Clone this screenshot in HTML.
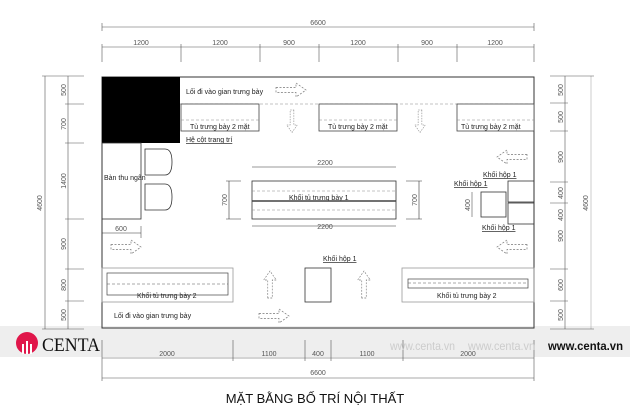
<!DOCTYPE html>
<html><head><meta charset="utf-8"><style>
html,body{margin:0;padding:0;background:#fff;width:630px;height:420px;overflow:hidden}
svg{display:block}
text{font-family:"Liberation Sans",sans-serif;fill:#222}
</style></head><body>
<svg width="630" height="420" viewBox="0 0 630 420" xmlns="http://www.w3.org/2000/svg">
<defs>
<g id="ar" fill="#fff" stroke="#777" stroke-width="0.7" stroke-dasharray="2,1.5"><path d="M0,-2.5 H20 V-7 L30,0 L20,7 V2.5 H0 Z"/></g>
</defs>
<rect x="0" y="326" width="630" height="31" fill="#eeeeee"/>
<g stroke="#555" stroke-width="0.6" fill="none">
<line x1="102" y1="27" x2="534" y2="27"/>
<line x1="102" y1="23" x2="102" y2="31"/><line x1="534" y1="23" x2="534" y2="31"/>
<line x1="102" y1="47" x2="534" y2="47"/>
<line x1="102" y1="44" x2="102" y2="62"/><line x1="181" y1="44" x2="181" y2="62"/><line x1="260" y1="44" x2="260" y2="62"/><line x1="319" y1="44" x2="319" y2="62"/><line x1="398" y1="44" x2="398" y2="62"/><line x1="457" y1="44" x2="457" y2="62"/><line x1="534" y1="44" x2="534" y2="62"/>
<line x1="45" y1="76" x2="45" y2="329"/><line x1="68" y1="76" x2="68" y2="329"/>
<line x1="42" y1="76" x2="84" y2="76"/><line x1="42" y1="329" x2="84" y2="329"/>
<line x1="65" y1="104" x2="84" y2="104"/><line x1="65" y1="143" x2="84" y2="143"/><line x1="65" y1="219" x2="84" y2="219"/><line x1="65" y1="269" x2="84" y2="269"/><line x1="65" y1="301" x2="84" y2="301"/>
<line x1="565" y1="76" x2="565" y2="329"/><line x1="591" y1="76" x2="591" y2="329" stroke="#aaa"/>
<line x1="550" y1="76" x2="594" y2="76"/><line x1="550" y1="329" x2="594" y2="329"/>
<line x1="550" y1="103" x2="568" y2="103"/><line x1="550" y1="131" x2="568" y2="131"/><line x1="550" y1="182" x2="568" y2="182"/><line x1="550" y1="203" x2="568" y2="203"/><line x1="550" y1="269" x2="568" y2="269"/><line x1="550" y1="301" x2="568" y2="301"/>
<line x1="102" y1="358" x2="534" y2="358"/><line x1="102" y1="378" x2="534" y2="378"/>
<line x1="102" y1="340" x2="102" y2="381"/><line x1="534" y1="340" x2="534" y2="381"/>
<line x1="233" y1="340" x2="233" y2="361"/><line x1="305" y1="340" x2="305" y2="361"/><line x1="331" y1="340" x2="331" y2="361"/><line x1="403" y1="340" x2="403" y2="361"/>
</g>
<g font-size="7" text-anchor="middle">
<text x="318" y="25" style="fill:#555">6600</text>
<text x="141" y="45" style="fill:#555">1200</text><text x="220" y="45" style="fill:#555">1200</text><text x="289" y="45" style="fill:#555">900</text><text x="358" y="45" style="fill:#555">1200</text><text x="427" y="45" style="fill:#555">900</text><text x="495" y="45" style="fill:#555">1200</text>
<text x="167" y="356" style="fill:#555">2000</text><text x="269" y="356" style="fill:#555">1100</text><text x="318" y="356" style="fill:#555">400</text><text x="367" y="356" style="fill:#555">1100</text><text x="468" y="356" style="fill:#555">2000</text>
<text x="318" y="375" style="fill:#555">6600</text>
</g>
<g font-size="7" text-anchor="middle">
<text transform="translate(42,203) rotate(-90)" style="fill:#555">4600</text>
<text transform="translate(66,90) rotate(-90)" style="fill:#555">500</text>
<text transform="translate(66,124) rotate(-90)" style="fill:#555">700</text>
<text transform="translate(66,181) rotate(-90)" style="fill:#555">1400</text>
<text transform="translate(66,244) rotate(-90)" style="fill:#555">900</text>
<text transform="translate(66,285) rotate(-90)" style="fill:#555">800</text>
<text transform="translate(66,315) rotate(-90)" style="fill:#555">500</text>
<text transform="translate(588,203) rotate(-90)" style="fill:#555">4600</text>
<text transform="translate(563,90) rotate(-90)" style="fill:#555">500</text>
<text transform="translate(563,117) rotate(-90)" style="fill:#555">500</text>
<text transform="translate(563,157) rotate(-90)" style="fill:#555">900</text>
<text transform="translate(563,193) rotate(-90)" style="fill:#555">400</text>
<text transform="translate(563,215) rotate(-90)" style="fill:#555">400</text>
<text transform="translate(563,236) rotate(-90)" style="fill:#555">900</text>
<text transform="translate(563,285) rotate(-90)" style="fill:#555">600</text>
<text transform="translate(563,315) rotate(-90)" style="fill:#555">500</text>
</g>
<rect x="102" y="77" width="432" height="251" fill="none" stroke="#333" stroke-width="1"/>
<rect x="102" y="77" width="78" height="66" fill="#000"/>
<line x1="180" y1="104" x2="534" y2="104" stroke="#888" stroke-width="0.6" stroke-dasharray="3,2"/>
<g fill="#fff" stroke="#444" stroke-width="0.8">
<rect x="181" y="104" width="78" height="27"/><rect x="319" y="104" width="78" height="27"/><rect x="457" y="104" width="77" height="27"/>
</g>
<g stroke="#888" stroke-width="0.5" stroke-dasharray="3,2">
<line x1="181" y1="120" x2="259" y2="120"/><line x1="319" y1="120" x2="397" y2="120"/><line x1="457" y1="120" x2="534" y2="120"/>
</g>
<g font-size="7">
<text x="186" y="94">Lối đi vào gian trưng bày</text>
<text x="190" y="129">Tủ trưng bày 2 mặt</text><text x="328" y="129">Tủ trưng bày 2 mặt</text><text x="461" y="129">Tủ trưng bày 2 mặt</text>
<text x="186" y="142" text-decoration="underline">Hệ cột trang trí</text>
<text x="104" y="180">Bàn thu ngân</text>
<text x="289" y="200">Khối tủ trưng bày 1</text>
<text x="454" y="186" text-decoration="underline">Khối hộp 1</text>
<text x="483" y="177" text-decoration="underline">Khối hộp 1</text>
<text x="482" y="230" text-decoration="underline">Khối hộp 1</text>
<text x="323" y="261" text-decoration="underline">Khối hộp 1</text>
<text x="137" y="298">Khối tủ trưng bày 2</text>
<text x="437" y="298">Khối tủ trưng bày 2</text>
<text x="114" y="318">Lối đi vào gian trưng bày</text>
</g>
<use href="#ar" x="276" y="90"/>
<use href="#ar" x="259" y="316"/>
<use href="#ar" x="111" y="247"/>
<use href="#ar" transform="translate(527,157) scale(-1,1)"/>
<use href="#ar" transform="translate(527,247) scale(-1,1)"/>
<use href="#ar" transform="translate(292,110) rotate(90) scale(0.75)"/>
<use href="#ar" transform="translate(420,110) rotate(90) scale(0.75)"/>
<use href="#ar" transform="translate(270,298) rotate(-90) scale(0.9)"/>
<use href="#ar" transform="translate(364,298) rotate(-90) scale(0.9)"/>
<g fill="none" stroke="#333" stroke-width="0.8">
<rect x="102" y="143" width="39" height="76"/>
<path d="M145,149 h20 q7,0 7,13 q0,13 -7,13 h-20 z"/>
<path d="M145,184 h20 q7,0 7,13 q0,13 -7,13 h-20 z"/>
<line x1="102" y1="233" x2="141" y2="233" stroke-width="0.5"/><line x1="141" y1="226" x2="141" y2="238" stroke-width="0.5"/>
<rect x="252" y="181" width="144" height="38"/>
<line x1="252" y1="167" x2="396" y2="167" stroke-width="0.6"/>
<line x1="252" y1="226" x2="396" y2="226" stroke-width="0.6"/>
<line x1="229" y1="181" x2="229" y2="219" stroke-width="0.6"/><line x1="226" y1="181" x2="241" y2="181" stroke-width="0.5"/><line x1="226" y1="219" x2="241" y2="219" stroke-width="0.5"/>
<line x1="419" y1="181" x2="419" y2="219" stroke-width="0.6"/><line x1="406" y1="181" x2="422" y2="181" stroke-width="0.5"/><line x1="406" y1="219" x2="422" y2="219" stroke-width="0.5"/>
<rect x="481" y="192" width="25" height="25"/>
<rect x="508" y="181" width="26" height="21"/><rect x="508" y="203" width="26" height="21"/>
<line x1="472" y1="192" x2="472" y2="217" stroke-width="0.5"/>
<rect x="305" y="268" width="26" height="34"/>
</g>
<line x1="252" y1="201" x2="396" y2="201" stroke="#444" stroke-width="1.5"/>
<g stroke="#888" stroke-width="0.5" stroke-dasharray="3,2">
<line x1="252" y1="191" x2="396" y2="191"/><line x1="252" y1="210" x2="396" y2="210"/>
</g>
<g font-size="7" text-anchor="middle">
<text x="325" y="165" style="fill:#555">2200</text><text x="325" y="229" style="fill:#555">2200</text>
<text x="121" y="231" style="fill:#555">600</text>
<text transform="translate(227,200) rotate(-90)" style="fill:#555">700</text>
<text transform="translate(417,200) rotate(-90)" style="fill:#555">700</text>
<text transform="translate(470,205) rotate(-90)" style="fill:#555">400</text>
</g>
<g fill="none" stroke="#999" stroke-width="0.8">
<rect x="102" y="268" width="131" height="34"/><rect x="402" y="268" width="132" height="34"/>
</g>
<g fill="none" stroke="#444" stroke-width="0.7">
<rect x="107" y="273" width="121" height="22"/>
<rect x="408" y="279" width="120" height="9"/>
</g>
<line x1="107" y1="284" x2="228" y2="284" stroke="#555" stroke-width="0.5" stroke-dasharray="3,2"/>
<line x1="408" y1="283" x2="528" y2="283" stroke="#555" stroke-width="0.5" stroke-dasharray="3,2"/>
<circle cx="27" cy="343" r="11" fill="#e0164a"/>
<g stroke="#fff" stroke-width="2"><line x1="23" y1="354" x2="23" y2="344"/><line x1="27" y1="354" x2="27" y2="341"/><line x1="31" y1="354" x2="31" y2="344"/></g>
<text x="42" y="351" font-size="19" textLength="58" lengthAdjust="spacingAndGlyphs" style="font-family:'Liberation Serif',serif;fill:#111">CENTA</text>
<text x="390" y="350" font-size="12" textLength="65" lengthAdjust="spacingAndGlyphs" style="fill:#ccc">www.centa.vn</text>
<text x="468" y="350" font-size="12" textLength="67" lengthAdjust="spacingAndGlyphs" style="fill:#ccc">www.centa.vn</text>
<text x="548" y="350" font-size="12" textLength="75" lengthAdjust="spacingAndGlyphs" style="fill:#111;font-weight:bold">www.centa.vn</text>
<text x="315" y="403" font-size="13" text-anchor="middle" style="fill:#111">MẶT BẰNG BỐ TRÍ NỘI THẤT</text>
</svg>
</body></html>
